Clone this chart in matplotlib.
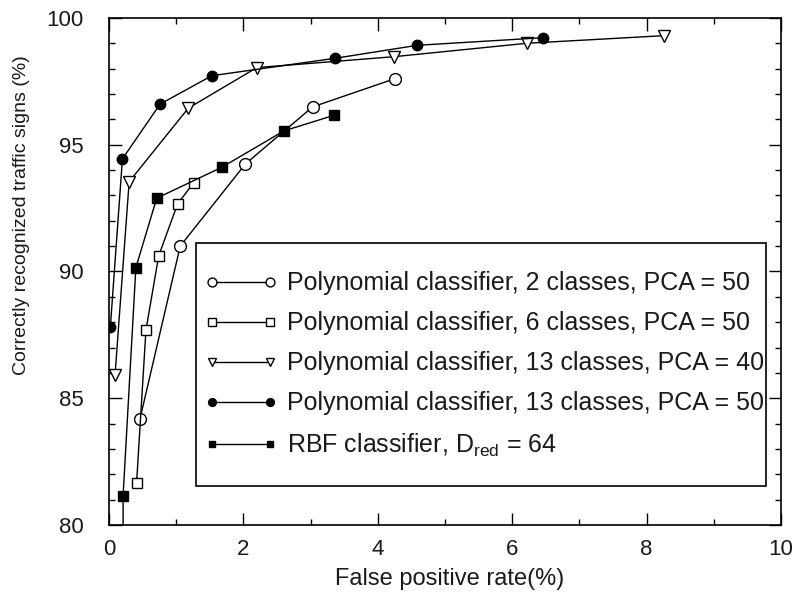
import matplotlib
matplotlib.use("Agg")
import matplotlib.pyplot as plt
import matplotlib.patches as mpatches

plt.rcParams['font.family'] = ['Liberation Sans', 'DejaVu Sans']
plt.rcParams['mathtext.fontset'] = 'custom'
plt.rcParams['mathtext.rm'] = 'Liberation Sans'
plt.rcParams['mathtext.it'] = 'Liberation Sans'

# false positive rate (%) vs correctly recognized signs (%)
fpr_poly2 = [0.46, 1.06, 2.03, 3.03, 4.25]
acc_poly2 = [84.17, 91.0, 94.24, 96.49, 97.6]

fpr_poly6 = [0.41, 0.55, 0.74, 1.02, 1.26]
acc_poly6 = [81.64, 87.69, 90.62, 92.66, 93.5]

fpr_poly13_40 = [0.09, 0.30, 1.18, 2.20, 4.24, 6.22, 8.26]
acc_poly13_40 = [85.92, 93.54, 96.44, 98.04, 98.47, 99.0, 99.3]

fpr_poly13_50 = [0.02, 0.20, 0.76, 1.53, 3.37, 4.59, 6.46]
acc_poly13_50 = [87.8, 94.44, 96.6, 97.72, 98.41, 98.92, 99.22]

fpr_rbf = [0.21, 0.21, 0.40, 0.71, 1.68, 2.60, 3.35]
acc_rbf = [77.0, 81.16, 90.15, 92.89, 94.11, 95.54, 96.16]

labels = [
    'Polynomial classifier, 2 classes, PCA = 50',
    'Polynomial classifier, 6 classes, PCA = 50',
    'Polynomial classifier, 13 classes, PCA = 40',
    'Polynomial classifier, 13 classes, PCA = 50',
    r'RBF classifier, D$_{\mathrm{red}}$ = 64',
]

fig = plt.figure(figsize=(8.02, 5.97), dpi=100)
ax = fig.add_axes([0.1359, 0.1206, 0.8379, 0.8494])

line_kw = dict(color='black', linewidth=1.0, markeredgewidth=1.0,
               markeredgecolor='black')

ax.plot(fpr_poly2, acc_poly2, marker='o', markersize=8.5,
        markerfacecolor='white', label=labels[0], **line_kw)
ax.plot(fpr_poly6, acc_poly6, marker='s', markersize=7.5,
        markerfacecolor='white', label=labels[1], **line_kw)
ax.plot(fpr_poly13_40, acc_poly13_40, marker='v', markersize=8.5,
        markerfacecolor='white', label=labels[2], **line_kw)
ax.plot(fpr_poly13_50, acc_poly13_50, marker='o', markersize=7.5,
        markerfacecolor='black', label=labels[3], **line_kw)
ax.plot(fpr_rbf, acc_rbf, marker='s', markersize=6.5,
        markerfacecolor='black', label=labels[4], **line_kw)

ax.set_xlim(0, 10)
ax.set_ylim(80, 100)
ax.set_xticks(range(0, 11, 2))
ax.set_xticks(range(0, 11), minor=True)
ax.set_yticks(range(80, 101, 5))
ax.set_yticks(range(80, 101), minor=True)

ax.tick_params(which='both', direction='in', top=True, right=True,
               width=1.0, colors='black', labelcolor='#1a1a1a')
ax.tick_params(which='major', length=9, labelsize=16)
ax.tick_params(which='minor', length=4.5)
ax.tick_params(axis='x', which='major', pad=10)
ax.tick_params(axis='y', which='major', pad=18)

for sp in ax.spines.values():
    sp.set_linewidth(1.2)

ax.set_xlabel('False positive rate(%)', fontsize=17, color='#1a1a1a')
ax.set_ylabel('Correctly recognized traffic signs (%)', fontsize=14,
              color='#1a1a1a')
ax.xaxis.set_label_coords(0.507, -0.085)
ax.yaxis.set_label_coords(-0.118, 0.611)

# legend box drawn as its own rectangle, entries placed inside it
box = mpatches.Rectangle((0.1295, 0.077), 0.8482, 0.479,
                         transform=ax.transAxes, facecolor='white',
                         edgecolor='black', linewidth=1.2, zorder=4)
ax.add_patch(box)

leg = ax.legend(loc='upper left', bbox_to_anchor=(0.1414, 0.500),
                frameon=False, fontsize=18, numpoints=2, markerscale=0.75,
                handlelength=2.92, handletextpad=0.4, labelspacing=0.64,
                borderpad=0, borderaxespad=0)
leg.set_zorder(5)
for txt in leg.get_texts():
    txt.set_color('#1a1a1a')

fig.savefig('out.png', dpi=100, facecolor='white')
